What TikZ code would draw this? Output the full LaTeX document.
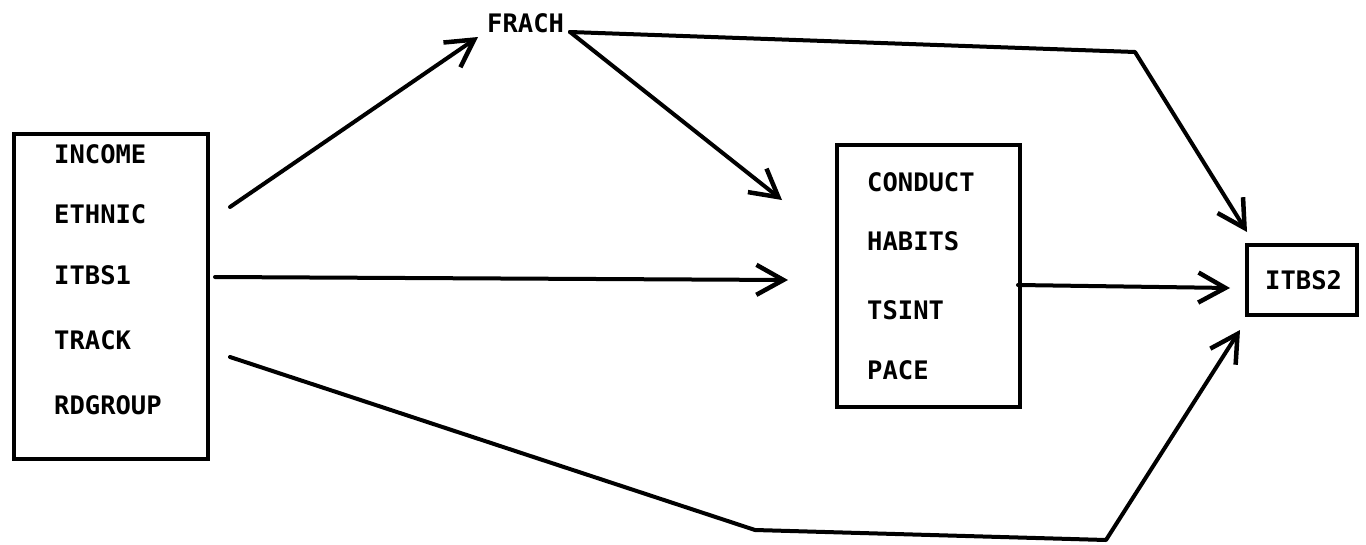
\documentclass[tikz,border=0pt]{standalone}
\usepackage{fontspec}
\newfontfamily\labelfont{DejaVu Sans Mono}
\usetikzlibrary{arrows.meta}
\begin{document}
\begin{tikzpicture}[x=1pt,y=-1pt,
  box/.style={draw, line width=4.2pt, inner sep=0pt, anchor=north west},
  var/.style={anchor=base west, inner sep=0pt,
    font=\labelfont\bfseries\fontsize{25.5}{30}\selectfont},
  link/.style={line width=4pt, line cap=round, line join=round},
  arr/.style={link, -{Straight Barb[length=27pt,width=30pt,line width=4.5pt]}}]
\useasboundingbox (0,0) rectangle (1366,544);

% background variables
\node[box, minimum width=194pt, minimum height=325pt] (srcbox) at (12,132) {};
\node[var] (income) at (54,163) {INCOME};
\node[var] (ethnic) at (54,223) {ETHNIC};
\node[var] (itbsa)  at (54,284) {ITBS1};
\node[var] (track)  at (54,349) {TRACK};
\node[var] (rdgroup) at (54,414) {RDGROUP};

% intervening variable
\node[var] (frach) at (487,32) {FRACH};

% classroom variables
\node[box, minimum width=183pt, minimum height=262pt] (midbox) at (835,143) {};
\node[var] (conduct) at (867,191) {CONDUCT};
\node[var] (habits)  at (867,250) {HABITS};
\node[var] (tsint)   at (867,319) {TSINT};
\node[var] (pace)    at (867,379) {PACE};

% outcome
\node[box, minimum width=110pt, minimum height=70pt] (outbox) at (1245,243) {};
\node[var] (itbsb) at (1265,289) {ITBS2};

% connector end points
\coordinate (srcup)   at (230,207);
\coordinate (frachin) at (478,37);
\coordinate (frachout) at (570,32);
\coordinate (midtop)  at (782,200);
\coordinate (srcmid)  at (215,277);
\coordinate (midin)   at (788,280);
\coordinate (midout)  at (1018,285);
\coordinate (outleft) at (1230,288);
\coordinate (bendtop) at (1135,52);
\coordinate (outtop)  at (1247,232);
\coordinate (srclow)  at (230,357);
\coordinate (bendlowa) at (755,530);
\coordinate (bendlowb) at (1106,540);
\coordinate (outlow)  at (1240,330);

% paths
\draw[arr] (srcup) -- (frachin);
\draw[arr] (frachout) -- (midtop);
\draw[arr] (frachout) -- (bendtop) -- (outtop);
\draw[arr] (srcmid) -- (midin);
\draw[arr] (midout) -- (outleft);
\draw[arr] (srclow) -- (bendlowa) -- (bendlowb) -- (outlow);
\end{tikzpicture}
\end{document}
